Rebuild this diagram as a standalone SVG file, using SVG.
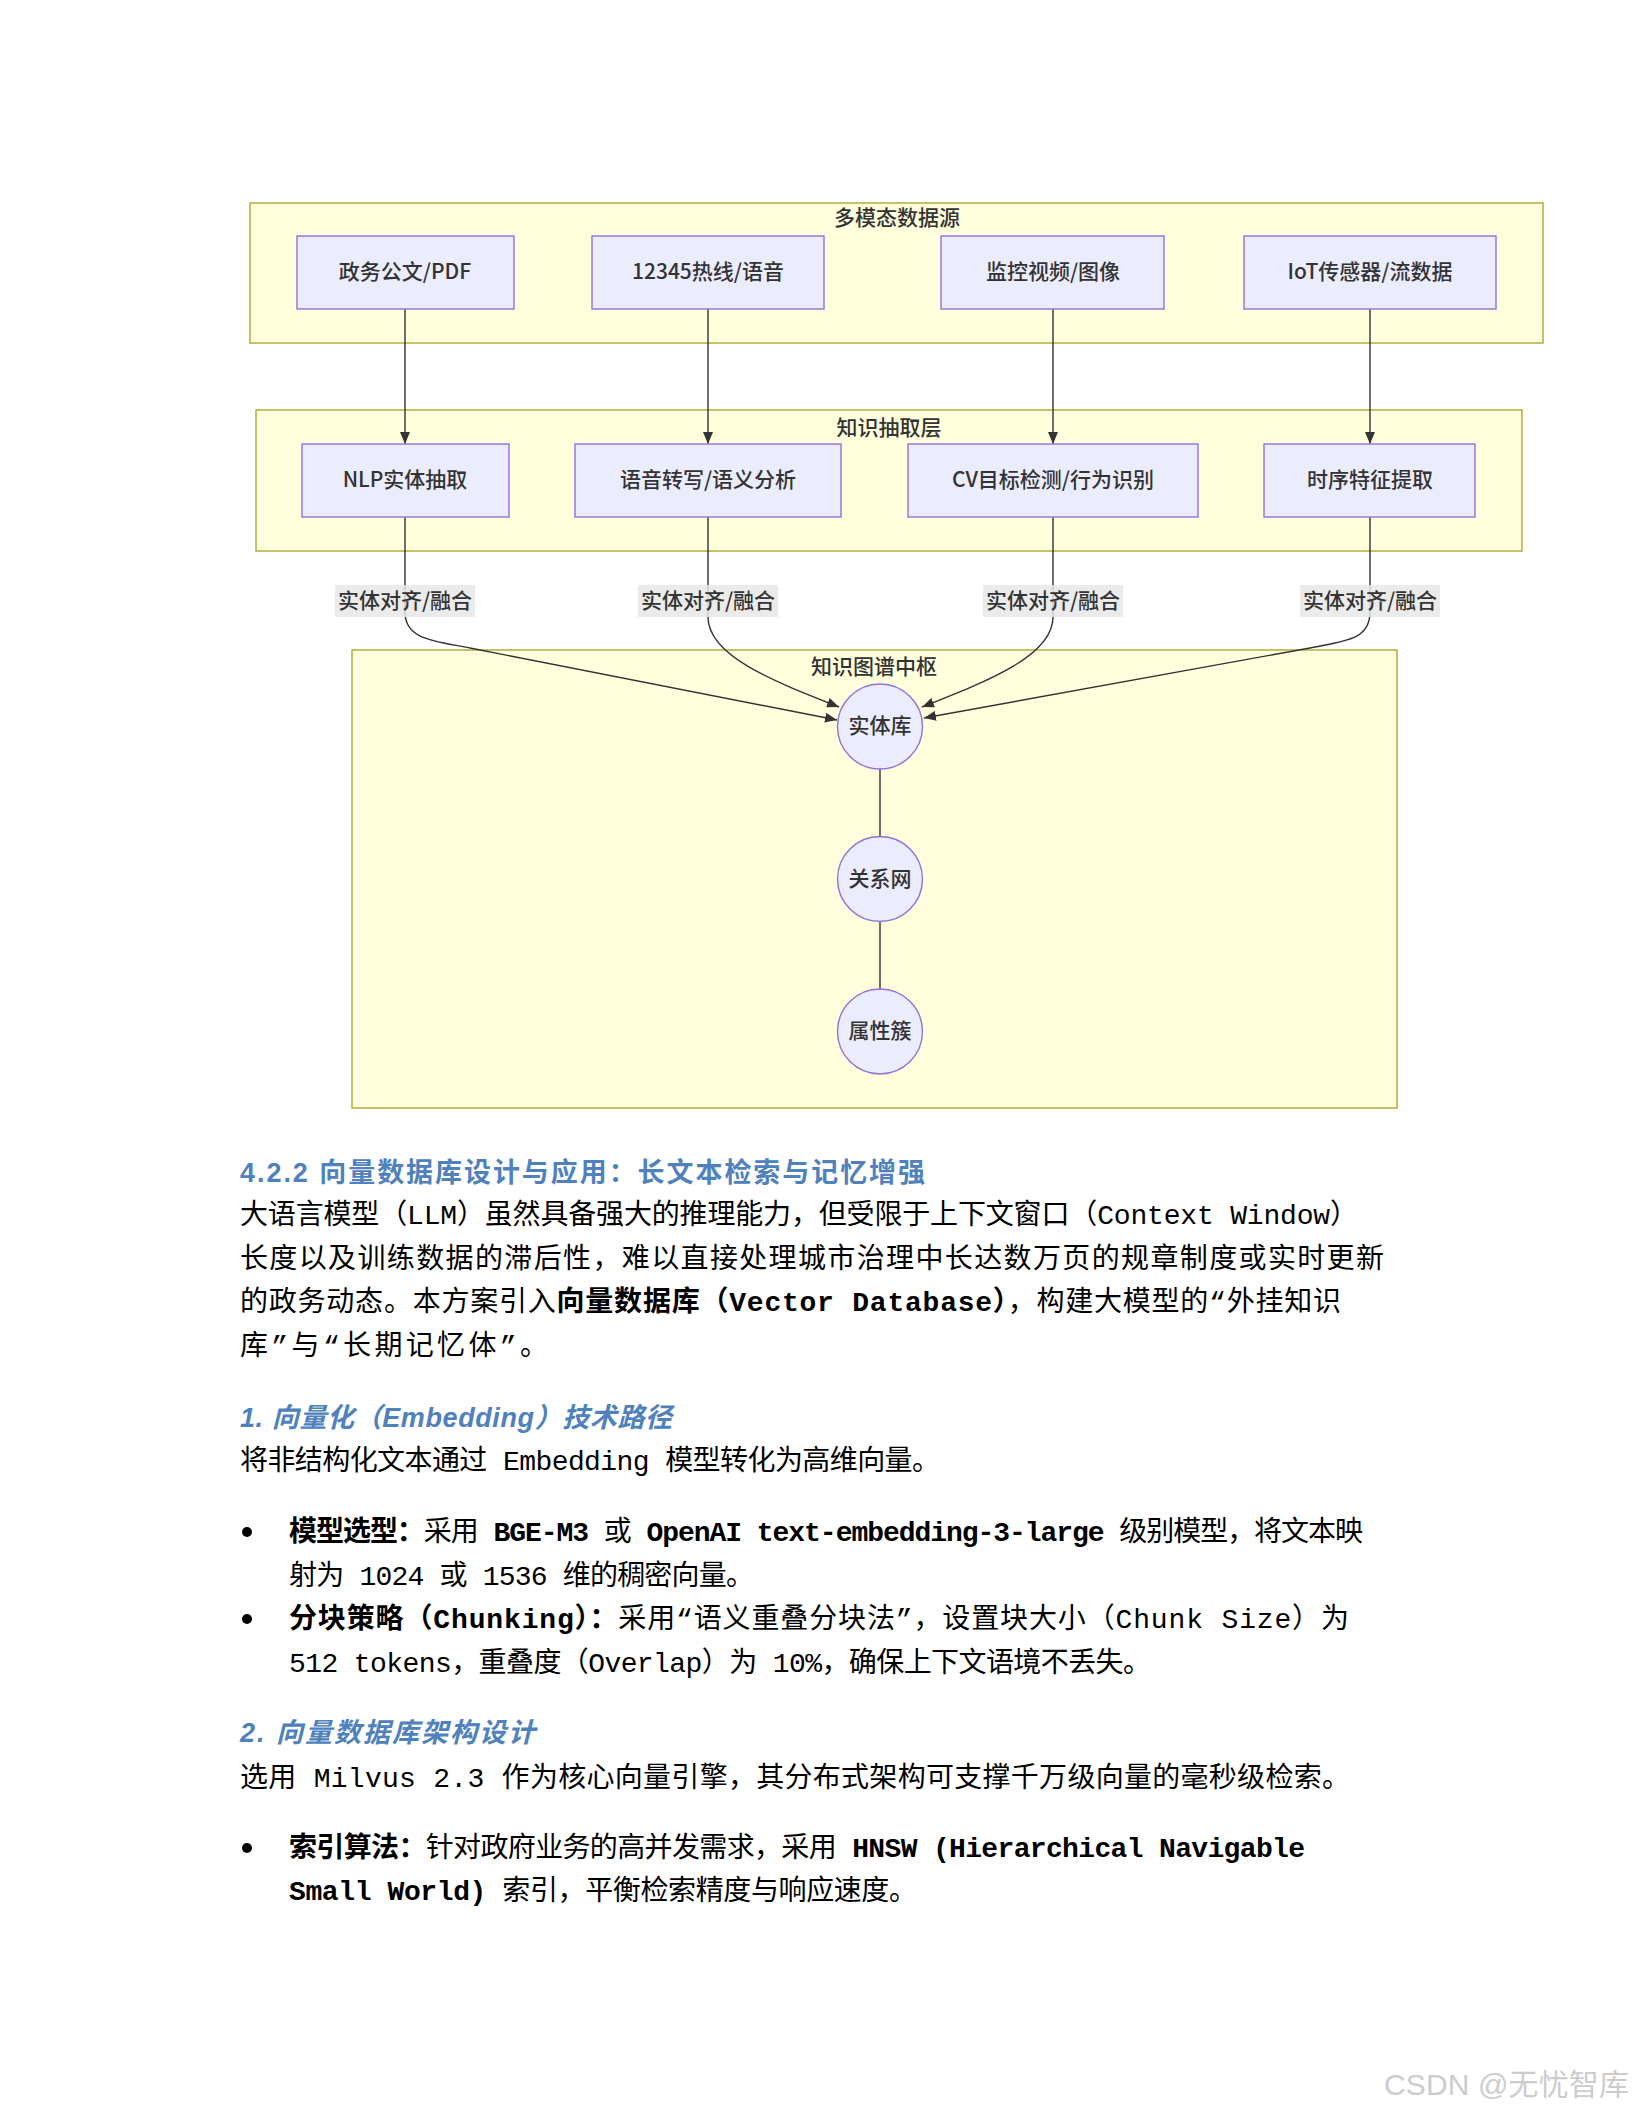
<svg xmlns="http://www.w3.org/2000/svg" width="1632" height="2112" viewBox="0 0 1632 2112">
<defs>
<style>
.cluster{fill:#ffffde;stroke:#aaaa33;stroke-width:1.4}
.node{fill:#ececff;stroke:#9370db;stroke-width:1.4}
.ntxt{font-family:"Noto Sans CJK SC","Liberation Sans",sans-serif;font-size:21px;font-weight:500;fill:#333;text-anchor:middle;dominant-baseline:central}
.edge{fill:none;stroke:#333;stroke-width:1.4}
.lblbg{fill:#e8e8e8;fill-opacity:0.85}
.body{font-family:"Liberation Mono","Noto Sans CJK SC",monospace;font-size:28px;fill:#000}
.b{font-weight:bold}
.h{font-family:"Liberation Sans","Noto Sans CJK SC",sans-serif;font-size:27px;font-weight:bold;fill:#4f81bd}
.hi{font-style:italic}
.wm{font-family:"Liberation Sans","Noto Sans CJK SC",sans-serif;font-size:30px;fill:#cccccc}
</style>
<marker id="arr" viewBox="0 0 12 10" refX="12" refY="5" markerWidth="12" markerHeight="10" markerUnits="userSpaceOnUse" orient="auto">
<path d="M0,0 L12,5 L0,10 z" fill="#333"/>
</marker>
</defs>
<rect width="1632" height="2112" fill="#ffffff"/>

<g id="cluster-sources">
<rect class="cluster" x="250" y="203" width="1293" height="140"/>
<text class="ntxt" x="897" y="216">多模态数据源</text>
</g>
<g id="cluster-extract">
<rect class="cluster" x="256" y="410" width="1266" height="141"/>
<text class="ntxt" x="889" y="426">知识抽取层</text>
</g>
<g id="cluster-kg">
<rect class="cluster" x="352" y="650" width="1045" height="458"/>
<text class="ntxt" x="874" y="665">知识图谱中枢</text>
</g>

<g id="connectors">
<path class="edge" d="M405,309 L405,444" marker-end="url(#arr)"/>
<path class="edge" d="M708,309 L708,444" marker-end="url(#arr)"/>
<path class="edge" d="M1053,309 L1053,444" marker-end="url(#arr)"/>
<path class="edge" d="M1370,309 L1370,444" marker-end="url(#arr)"/>
<path class="edge" d="M405,517 L405,612 C405,640 435,641 470,648 L837,720" marker-end="url(#arr)"/>
<path class="edge" d="M708,517 L708,617 C708,655 770,680 839,707" marker-end="url(#arr)"/>
<path class="edge" d="M1053,517 L1053,617 C1053,655 991,680 922,707" marker-end="url(#arr)"/>
<path class="edge" d="M1370,517 L1370,612 C1370,640 1345,641 1310,648 L924,718" marker-end="url(#arr)"/>
<path class="edge" d="M880,769 L880,837"/>
<path class="edge" d="M880,922 L880,989"/>
<g id="edge-labels">
<rect class="lblbg" x="335" y="585" width="140" height="32"/>
<text class="ntxt" x="405" y="599">实体对齐/融合</text>
<rect class="lblbg" x="638" y="585" width="140" height="32"/>
<text class="ntxt" x="708" y="599">实体对齐/融合</text>
<rect class="lblbg" x="983" y="585" width="140" height="32"/>
<text class="ntxt" x="1053" y="599">实体对齐/融合</text>
<rect class="lblbg" x="1300" y="585" width="140" height="32"/>
<text class="ntxt" x="1370" y="599">实体对齐/融合</text>
</g>
</g>

<g id="n-doc"><rect class="node" x="297" y="236" width="217" height="73"/><text class="ntxt" x="405" y="270">政务公文/PDF</text></g>
<g id="n-hotline"><rect class="node" x="592" y="236" width="232" height="73"/><text class="ntxt" x="708" y="270">12345热线/语音</text></g>
<g id="n-video"><rect class="node" x="941" y="236" width="223" height="73"/><text class="ntxt" x="1053" y="270">监控视频/图像</text></g>
<g id="n-iot"><rect class="node" x="1244" y="236" width="252" height="73"/><text class="ntxt" x="1370" y="270">IoT传感器/流数据</text></g>

<g id="n-nlp"><rect class="node" x="302" y="444" width="207" height="73"/><text class="ntxt" x="405" y="478">NLP实体抽取</text></g>
<g id="n-asr"><rect class="node" x="575" y="444" width="266" height="73"/><text class="ntxt" x="708" y="478">语音转写/语义分析</text></g>
<g id="n-cv"><rect class="node" x="908" y="444" width="290" height="73"/><text class="ntxt" x="1053" y="478">CV目标检测/行为识别</text></g>
<g id="n-ts"><rect class="node" x="1264" y="444" width="211" height="73"/><text class="ntxt" x="1370" y="478">时序特征提取</text></g>

<g id="n-entity"><circle class="node" cx="880" cy="726.5" r="42.5"/><text class="ntxt" x="880" y="724">实体库</text></g>
<g id="n-relation"><circle class="node" cx="880" cy="879" r="42.5"/><text class="ntxt" x="880" y="876.5">关系网</text></g>
<g id="n-attr"><circle class="node" cx="880" cy="1031.5" r="42.5"/><text class="ntxt" x="880" y="1029">属性簇</text></g>

<g id="doc-text">
<text class="h" x="240" y="1182" textLength="685" lengthAdjust="spacing">4.2.2 向量数据库设计与应用：长文本检索与记忆增强</text>
<text class="body" x="240" y="1224" textLength="1118" lengthAdjust="spacing">大语言模型（LLM）虽然具备强大的推理能力，但受限于上下文窗口（Context Window）</text>
<text class="body" x="240" y="1268" textLength="1144" lengthAdjust="spacing">长度以及训练数据的滞后性，难以直接处理城市治理中长达数万页的规章制度或实时更新</text>
<text class="body" x="240" y="1311" textLength="1101" lengthAdjust="spacing">的政务动态。本方案引入<tspan class="b">向量数据库（Vector Database）</tspan>，构建大模型的“外挂知识</text>
<text class="body" x="240" y="1355" textLength="308" lengthAdjust="spacing">库”与“长期记忆体”。</text>

<text class="h hi" x="240" y="1427" textLength="432" lengthAdjust="spacing">1. 向量化（Embedding）技术路径</text>
<text class="body" x="240" y="1470" textLength="700" lengthAdjust="spacing">将非结构化文本通过 Embedding 模型转化为高维向量。</text>

<circle cx="247" cy="1532" r="5" fill="#000"/>
<text class="body" x="289" y="1541" textLength="1074" lengthAdjust="spacing"><tspan class="b">模型选型：</tspan>采用 <tspan class="b">BGE-M3</tspan> 或 <tspan class="b">OpenAI text-embedding-3-large</tspan> 级别模型，将文本映</text>
<text class="body" x="289" y="1585" textLength="465" lengthAdjust="spacing">射为 1024 或 1536 维的稠密向量。</text>
<circle cx="247" cy="1619" r="5" fill="#000"/>
<text class="body" x="289" y="1628" textLength="1060" lengthAdjust="spacing"><tspan class="b">分块策略（Chunking）：</tspan>采用“语义重叠分块法”，设置块大小（Chunk Size）为</text>
<text class="body" x="289" y="1672" textLength="862" lengthAdjust="spacing">512 tokens，重叠度（Overlap）为 10%，确保上下文语境不丢失。</text>

<text class="h hi" x="240" y="1742" textLength="295" lengthAdjust="spacing">2. 向量数据库架构设计</text>
<text class="body" x="240" y="1787" textLength="1110" lengthAdjust="spacing">选用 Milvus 2.3 作为核心向量引擎，其分布式架构可支撑千万级向量的毫秒级检索。</text>

<circle cx="247" cy="1848" r="5" fill="#000"/>
<text class="body" x="289" y="1857" textLength="1016" lengthAdjust="spacing"><tspan class="b">索引算法：</tspan>针对政府业务的高并发需求，采用 <tspan class="b">HNSW (Hierarchical Navigable</tspan></text>
<text class="body" x="289" y="1900" textLength="628" lengthAdjust="spacing"><tspan class="b">Small World)</tspan> 索引，平衡检索精度与响应速度。</text>
</g>

<text class="wm" x="1384" y="2095" textLength="245" lengthAdjust="spacing">CSDN @无忧智库</text>
</svg>
